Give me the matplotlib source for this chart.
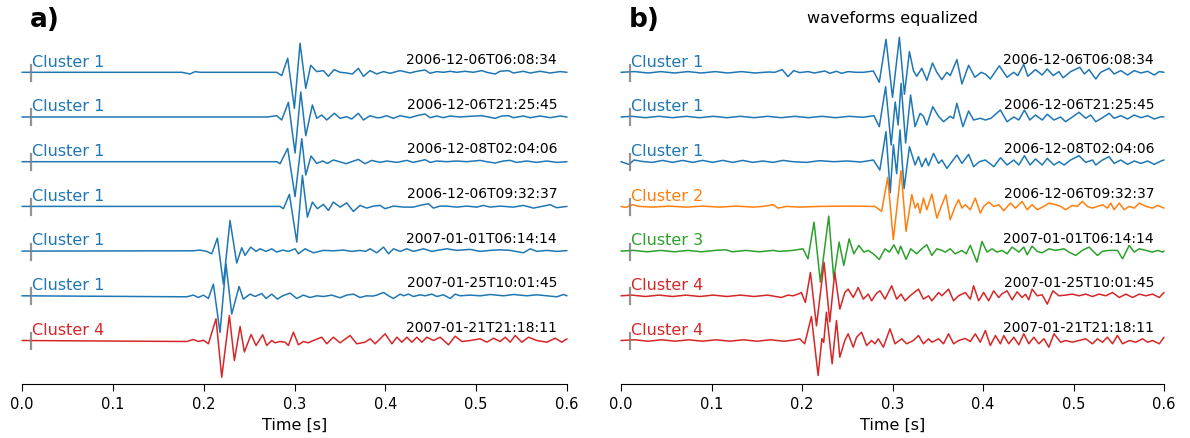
import numpy as np
import matplotlib
matplotlib.use("Agg")
import matplotlib.pyplot as plt

# origin times of the seven events, top to bottom
event_times = ["2006-12-06T06:08:34", "2006-12-06T21:25:45", "2006-12-08T02:04:06",
               "2006-12-06T09:32:37", "2007-01-01T06:14:14", "2007-01-25T10:01:45",
               "2007-01-21T21:18:11"]
clusters_raw = [1, 1, 1, 1, 1, 1, 4]
clusters_eq = [1, 1, 1, 2, 3, 4, 4]

# filtered traces, (time [ms], amplitude) at the turning points
raw_1 = [(0, 0), (176, 0), (185, -1.7), (190.5, 0.7), (196, 0), (280.4, 0), (285.9, -3.3), (292.5, 14),
         (299.9, -36), (306.1, 29), (312.4, -16), (317.9, 7), (324.5, 0.7), (331.8, 1.7), (337.3, -4),
         (343.6, 2.7), (350.2, 0), (357.5, -0.7), (363.7, -1.7), (370.3, 4), (375.9, -4), (383.2, 1.7),
         (390.5, -1.7), (397.9, 0.7), (405.2, -1), (416.2, 1.7), (427.2, -0.7), (434.6, 1), (443.7, 2.3),
         (449.3, -1), (456.6, 0.7), (463.9, 0), (471.3, 1), (478.6, 0), (487.8, 1), (497, 0), (506.1, 1.7),
         (511.6, 0), (520.8, -1.7), (526.3, 1), (535.5, 1.7), (541, -0.7), (552, 1), (559.4, -0.7),
         (570.4, 1), (581.4, -0.7), (592.4, 0.7), (600, 0)]
raw_2 = [(0, 0), (270, 0), (280.4, 1.3), (285.9, -3), (293.3, 14.7), (300.6, -36), (306.9, 25),
         (312.4, -18.7), (319.7, 12), (324.5, -1.3), (330, 2), (335.5, -3), (343.9, 3.7), (350.2, -1.3),
         (357.5, 0.3), (363, -2), (370.3, 3.7), (375.9, -3), (383.2, 1.3), (390.5, -0.7), (394.2, -0.7),
         (401.5, 1.3), (408.9, -1.3), (416.2, 1.3), (427.2, -0.7), (434.6, 1.3), (443.7, 3), (449.3, -0.7),
         (456.6, 1), (463.9, -0.7), (471.3, 1), (482.3, 0), (493.3, 0.7), (506.1, 1.3), (513.5, 0),
         (520.8, -1.3), (528.2, 1), (535.5, 1.3), (541, -0.7), (552, 1), (559.4, -0.7), (570.4, 1),
         (581.4, -0.7), (592.4, 1), (600, 0)]
raw_3 = [(0, 0), (280.4, 0), (284.1, -2), (292.5, 13.3), (300.6, -35), (308, 23), (312.4, -13.3),
         (318.2, 5.7), (324.5, -1.7), (331.1, 0.7), (336.2, -1.7), (342.8, 1.7), (349.4, 0), (356.8, -2),
         (363, 0), (370.3, 2.3), (377.7, -2), (385, 1.3), (394.2, -0.7), (401.5, 0.7), (412.6, -0.7),
         (423.6, 1.3), (430.9, -0.7), (443.7, 2), (449.3, -0.7), (456.6, 0.7), (467.6, 0), (478.6, 0.7),
         (489.6, 0), (504.3, 1.3), (511.6, 0), (520.8, -1.3), (530, 0.7), (537.3, 1.3), (544.7, -0.7),
         (555.7, 0.7), (566.7, -0.7), (577.7, 0.7), (588.7, -0.7), (600, 0)]
raw_4 = [(0, 0), (284.1, 0), (287.8, -2.3), (294.4, 12), (302.5, -35.7), (308.7, 31), (314.2, -10.7),
         (319.7, 4.3), (325.2, -2.3), (331.8, 2), (337.3, -4), (342.8, 4.3), (350.2, -0.7), (357.5, 3.5),
         (364.8, -5), (372.2, 1), (379.5, -1.7), (386.9, 0.3), (394.2, 1), (399.7, -2.3), (408.9, 0.3),
         (419.9, -0.7), (430.9, -0.7), (438.2, 1), (447.4, 2.7), (452.9, -1.7), (460.3, 0.3), (467.6, 0.3),
         (478.6, -0.7), (489.6, 0.3), (500.6, -0.7), (508, 1), (515.3, -0.7), (526.3, 0.3), (541, -0.7),
         (552, 1), (563, -1.7), (574, 0.3), (581.4, 1.7), (588.7, -1.3), (600, 0)]
raw_5 = [(0, 0), (188.7, 0.3), (196, 1), (203.4, -0.3), (208.9, -2.7), (215.1, 13), (221.7, -33),
         (229, 30.7), (236.4, -12), (241.9, 3.3), (245.6, -4.3), (251.8, 4), (257.7, -0.3), (262.1, 2.3),
         (268.7, -0.3), (274.9, 2.3), (280.4, -1), (287, 1), (293.3, -0.3), (300.6, 2.3), (304.3, -2.7),
         (311.6, 2.3), (320.8, -1.7), (331.8, 0.7), (342.8, 0.3), (353.8, 1), (363, -0.3), (372.2, 0.7),
         (378, -0.3), (383.3, 2.3), (390.6, -1.7), (398, 4), (403.5, -2.7), (409, 2.3), (416.3, -0.3),
         (423.7, 2.3), (431, -0.3), (442, 2.3), (451.2, -0.3), (456.7, 0.7), (467.7, 2.3), (478.7, 0.7),
         (493.4, 1.7), (504.4, -0.3), (515.4, 0.7), (526.4, 1.3), (537.4, 0.7), (552.1, -1.7),
         (559.5, 2.3), (566.8, -0.3), (577.8, 0.7), (588.8, -0.3), (600, 0.5)]
raw_6 = [(0, 0), (181.3, -1), (188.7, 0.7), (194.2, -1.7), (199.7, 0.7), (205.2, -2.7), (210.7, 11.7),
         (218, -36.7), (224.6, 31.7), (230.9, -18.3), (239, 9.3), (243.7, -3.3), (251.1, 1.7), (256.6, -0.7),
         (263.9, 2.3), (268.7, -2.7), (274.9, 1.7), (281.2, -3.3), (287, 0), (295.1, 2.7), (302.5, -2.7),
         (309.8, 0.7), (317.1, -1.7), (324.5, 0), (331.8, -0.7), (341, 0.7), (350.2, -2), (357.5, 0.7),
         (364.8, 1.7), (372.2, -1.7), (379.5, 0), (386, -0.3), (390.6, 0.7), (398, 3.3), (403.5, 0),
         (409, -2.7), (416.3, 1.7), (420, 0), (425.5, 1.7), (431, -0.7), (438.4, 1), (443.9, 0),
         (451.2, 1.7), (456.7, -0.7), (464, 1), (471.4, -2.7), (476.9, 1.7), (482.4, 0), (493.4, 0.7),
         (504.4, 0), (515.4, 1.3), (530.1, 0), (541.1, 1.3), (555.8, 0), (566.8, 1), (577.8, 0),
         (588.8, -1), (596.2, 1.3), (600, 0)]
raw_7 = [(0, 0), (181.3, -1), (188.7, 1), (194.2, -1), (199.7, 0.3), (205.2, -3.3), (213.6, 21.7),
         (219.9, -36.7), (228.3, 25), (233.8, -20), (240.1, 14), (244.8, -11.5), (252.2, 6), (257.7, -5),
         (265, 5.7), (269.4, -5), (274.9, 0), (278.6, -2.3), (284.1, -1), (289.6, -1.7), (293.3, -5),
         (298.8, 8.3), (304.3, -4.3), (309.8, -1), (315.3, -2.3), (320.8, 0), (330, 3.3), (335.5, -3.3),
         (342.8, 3.3), (350.2, -2.3), (361.2, 5), (368.5, -3.3), (377.7, -1.7), (383.3, 1.7),
         (388.8, -3.3), (399.8, 6.7), (407.2, -3.3), (412.7, 3.3), (418.2, -1.7), (423.7, 3.3),
         (429.2, -1.7), (434.7, 3.3), (440.2, -1.7), (445.7, 3.3), (453, 0), (460.4, 3.3), (469.5, -4.3),
         (476.9, 4.3), (484.2, -1), (493.4, 0), (504.4, 1.7), (511.8, -1.7), (519.1, 2.3), (526.4, -1),
         (532, 3.3), (537.4, -1.7), (543, 5), (550.3, -1.7), (557.6, 3.3), (566.8, 0), (577.8, -1.7),
         (587, 2.3), (594.3, -1.7), (600, 1.7)]

# the same events after spectral equalization
eq_1 = [(0, 0), (15, 0.7), (30, -0.7), (44, 0.7), (59, -0.7), (74, 0.7), (89, -0.7), (104, 0.7),
        (118, -0.7), (133, 0.7), (148, -0.7), (163, 0.3), (170, 0), (178.2, 2.7), (184.5, -4.3),
        (190.8, 1.7), (197.4, -0.3), (206.7, 0.7), (213.6, -0.7), (225.2, 1.3), (230.7, -1), (238.1, 1),
        (243.6, -1), (251, 0.7), (260, 0), (268, 0), (278.8, 1.3), (285.4, -10), (292.8, 33), (300, -25),
        (307.6, 35), (313.2, -22), (318.7, 20.7), (323.1, 1.7), (326.8, -4), (332.4, 4), (338, -8),
        (344.2, 9.3), (349, 0), (354.5, -7.3), (360.1, 0), (363.8, -3.3), (371.2, 12.7), (376.7, -11.7),
        (384.1, 7), (391, -5), (398, 0), (403, -2), (408, -6.7), (418, 6.5), (426.6, -5), (434, 0),
        (438.4, -3.3), (445.1, 8), (449.5, -4), (458, 2.7), (465.4, -2.7), (471, 3.3), (477.6, -3.3),
        (483.9, 0.7), (488.5, -5.5), (496.8, 0.7), (507, 5), (512, -1.7), (517.2, 2.7), (524.6, -6.7),
        (530.1, 0), (539.4, 4), (544.9, -1.7), (552.3, 1.7), (559.7, -2.7), (567.1, 1.7), (574.5, -0.7),
        (581.9, 1), (589.3, -2.7), (594.8, 0.7), (600, 0)]
eq_2 = [(0, 0), (12, 0.7), (27, -0.7), (42, 0.7), (57, -0.7), (72, 0.7), (87, -0.7), (102, 0.7),
        (117, -0.7), (132, 0.7), (147, -0.7), (162, 0.7), (177, -0.7), (192, 0.7), (207, -0.7), (222, 0.7),
        (237, -0.7), (252, 0.7), (267, -0.3), (279.5, 1.3), (285.4, -9.7), (292.4, 30.3), (298.5, -28),
        (303, 15), (306.2, -8), (309.5, 33.7), (314.5, -26), (320, 22), (324.9, -9.7), (330.5, 3.7),
        (334.2, 0.7), (337.9, -8), (344.5, 10.3), (350.8, 0.7), (356.4, -4.7), (363.7, 0.7), (367.4, -1.3),
        (371.1, 13.7), (377.8, -9.7), (384.1, 6), (389.6, -3), (397, -1.3), (402.6, -3), (408.8, -1.3),
        (419.2, 7), (426.6, -4.7), (434, 0), (439.5, -3), (445.8, 7), (451.7, -3), (458, 2),
        (465.4, -3), (471, 2.7), (478.4, -3), (485.7, 0), (491.3, -4.7), (498.7, 0), (506.1, 4.7),
        (513.5, -1.3), (519, 2), (524.6, -4.7), (532, -0.7), (539.4, 3.7), (544.9, -1.3), (552.3, 1.3),
        (559.7, -2), (567.1, 2), (574.5, -0.7), (581.9, 1.3), (589.3, -2), (596.7, 0.3), (600, 0)]
eq_3 = [(0, 0), (8.9, -2.7), (14.4, 1.7), (23, 0.3), (34.8, -0.7), (45.9, 1.3), (57, -0.7), (68, 1.3),
        (79.1, -0.7), (90.2, 1.3), (101.3, -0.7), (112.4, 1.3), (123.5, -0.7), (134.6, 1.3), (145.7, -0.7),
        (156.8, 0.7), (167.9, -0.7), (179, 1.3), (190.1, 0), (204.8, -0.7), (219.6, 1), (235, 0),
        (250, 0.7), (265, -0.3), (278.8, 1.7), (286, -8.3), (292.8, 30), (297.5, -31), (301, 17),
        (304.6, -12), (308.3, 31.7), (312.8, -27), (318.7, 15), (325, -3.3), (328.7, 5), (332.4, -5),
        (336.8, 3.3), (339.8, -4), (345.3, 8.3), (350.9, -1.7), (354.6, 1.7), (360.1, -6.7), (365.6, 0),
        (371.2, 6.7), (376.7, -1.7), (384.1, 7.3), (389.7, -5), (396, 0), (402.6, 1.7), (412, -5),
        (419.4, 4), (426.6, -3.3), (434, 1.7), (439.5, -3.3), (445.8, 6), (452, -3.3), (458, 2.7),
        (465.4, -3.3), (471, 3.3), (478.4, -3.3), (484, 0), (489.6, -3.3), (496.8, 1.7), (506.1, 6),
        (513.5, -0.7), (521, 1.7), (524.6, -3.3), (532, 1.7), (539.4, 5), (544.9, -1.7), (552.3, 1.7),
        (559.7, -2.7), (567.1, 0.7), (574.5, -1.7), (581.9, 0.7), (589.3, -2.7), (596.7, 0.7), (600, 1.7)]
eq_4 = [(0, 0), (5.2, -1), (12.6, 1.7), (20, 0), (35, -0.7), (53, 0.3), (72, -0.7), (90, 0.3),
        (109, -0.7), (127, 0.3), (146, -0.7), (157, 0), (168, 1.7), (173.4, -1.7), (183, 0),
        (197.4, -0.7), (220, 0), (250, 0.3), (280.6, 0), (288, -5), (294.7, 29), (300.9, -33.3),
        (309.4, 35.7), (315, -25), (321.3, 11.7), (325, -1.7), (327.9, 3.3), (330.5, -6.7), (334.2, 8.3),
        (337.9, -3.3), (343.5, 12.3), (349, -11.7), (354.6, 1.7), (359, 11.7), (363.8, -13.3), (369.3, 0),
        (373, 6.7), (376.7, -1.7), (380.4, 1.7), (386, -3.3), (391.5, 8.3), (397, -6.7), (400.7, 0),
        (406.3, 4.3), (411.8, 0), (417.4, 1.7), (422.9, -4.3), (430.3, 3.3), (435.9, -1.7), (443.2, 5),
        (448.8, -3.3), (454.3, 1.7), (459.9, -3.3), (467.3, 0), (472.8, 3.3), (480.2, 1.7), (485.8, 0),
        (491.3, -3.3), (498.7, 1), (504.2, 0), (509.8, 5), (515.3, 0), (520.9, -1.7), (526.4, 0),
        (532, 1.7), (537.5, -1.7), (541.2, 3.3), (544.9, -3.3), (550.5, 3.3), (556, -3.3), (561.6, 0),
        (567.1, -1.7), (572.6, 3.3), (580, 0), (587.4, -1.7), (593, 1), (600, -1.7)]
eq_5 = [(0, 0), (14, 0.7), (29, -0.7), (44, 0.7), (59, -0.7), (74, 0.7), (89, -0.7), (104, 0.7),
        (116, 1.3), (123, -0.7), (138, 0.7), (153, -0.7), (168, 0.7), (175.2, -0.3), (190, 0.7),
        (201.1, 2.3), (206.6, -7.7), (213.3, 29), (220.3, -31), (229.5, 35), (235.1, -27.7), (241, 9),
        (246.2, -14.3), (252.1, 12.3), (257.3, -2.7), (262.8, 5.7), (268.4, -1), (273.2, 0.7),
        (278.7, -2.7), (285.4, -8.3), (291.7, 2.3), (296.5, -1), (301.6, 6.3), (306.4, -2.7), (309, 5),
        (315, -8.3), (320.1, 2.3), (326.8, -2.7), (332.3, 2.3), (337.9, 6.3), (343.4, -4.3), (349, 2.3),
        (354.5, 0.7), (358.2, -1), (363.7, 2.3), (369.3, -2.7), (376.7, 0.7), (381.5, -2.7),
        (385.9, 5.7), (393.3, -11), (398.9, 9.7), (404.4, -1), (410, 2.3), (415.5, -1), (421.1, 0.7),
        (426.6, -2.7), (432.2, 4), (439.6, -1), (445.1, 4), (448.8, -3.7), (454.3, 5), (459.9, -0.3),
        (465.4, -1.7), (472.8, 2.3), (480.2, 0.7), (489.5, 2.3), (495, -1), (502.4, -4.3), (509.8, 0.7),
        (517.2, 4), (522.7, -1), (526.4, -4.3), (532, -0.3), (539.4, 0.7), (548.6, 0.7), (554.2, -7.7),
        (561.6, 5.7), (567.1, -1), (572.6, 2.3), (580, 0.7), (587.4, -1), (593, 0.7), (598.5, -1),
        (600, 0)]
eq_6 = [(0, 0), (12, 0.7), (27, -0.7), (42, 0.7), (57, -0.7), (72, 0.7), (87, -0.7), (102, 0.7),
        (117, -0.7), (132, 0.7), (147, -0.7), (162, 0.7), (177.1, -1.7), (184.5, 0.7), (190, 0),
        (195.6, 1.7), (199.3, 3.3), (203.7, -6.7), (209.3, 23.3), (216, -30), (224.4, 33.3),
        (230.7, -26), (236.2, 23.3), (241.8, -13.3), (247.3, 3.3), (251, 6.7), (256.6, -1.7),
        (262.1, 8.3), (267.7, -3.3), (273.2, 1.7), (276.9, -5), (282.5, 2.7), (286.2, 5), (291.7, -3.3),
        (299.1, 10), (304.6, -3.3), (309.4, 1.7), (313.9, -5), (319.4, 0), (328.7, 6.7), (334.2, -3.3),
        (339.8, 0), (343.5, -5), (350.9, 3.3), (354.6, 0), (361.9, 6.7), (367.5, -5), (373, 0),
        (380.4, 3.3), (386, -3.3), (389.6, 10), (395.2, -5), (400.7, 3.3), (406.3, -5), (411.8, 5),
        (417.4, -1.7), (421, 2), (426.6, 5), (432.2, -4), (437.7, 4), (443.2, -1.7), (447, 1.5),
        (450.6, -4), (454.3, 6.7), (459.9, 0), (465.4, 1), (471, -8.3), (477.3, 5), (483.9, 0),
        (491.3, 0.7), (498.7, 1.7), (506.1, 0), (513.5, 1.7), (520.9, -0.7), (528.3, 1.7), (535.7, 0),
        (543.1, 3.3), (550.5, -1.7), (557.9, 1.7), (565.3, -1.7), (572.6, 1.7), (580, 0), (587.4, 1.7),
        (594.8, -1.7), (600, 3.3)]
eq_7 = [(0, 0), (15, 0.7), (30, -0.7), (45, 0.7), (60, -0.7), (75, 0.7), (90, -0.7), (105, 0.7),
        (120, -0.7), (135, 0.7), (150, -0.7), (165, 0.7), (180, -0.7), (190, 0.3), (197.4, 1.7),
        (203, -3.3), (210.4, 24), (217.8, -35), (222, 2), (224, -2), (227, 28.3), (233.3, -23.3),
        (238.1, 20), (241.8, -16.7), (247.3, 0), (251, 6.7), (256.6, -6.7), (260.3, 3.3), (265.8, 8.3),
        (271.4, -5), (276.9, 0), (280.6, -3.3), (284.3, 1.7), (289.9, -6.7), (297.2, 11.7),
        (302.8, -3.3), (310.2, 1.7), (315.7, -3.3), (323.1, 0), (328.7, 5), (334.2, -3.3), (339.8, 1.7),
        (343.5, -1.7), (350.9, 1.7), (356.4, -3.3), (361.9, 6.7), (367.5, -3.3), (373, 0), (380.4, 2),
        (385.9, -1), (391.5, 6.7), (397, -1.7), (402.6, 10), (408.1, -5), (413.7, 5), (419.2, -3.3),
        (422.9, 5), (428.5, -3.3), (434, 3.3), (439.6, -4.3), (445.1, 6.7), (450.6, -3.3), (456.2, 3.3),
        (461.7, -3.3), (467.3, 1.7), (472.8, -6.7), (478.4, 6.7), (485.8, -1.7), (491.3, 0),
        (498.7, -1.7), (506.1, 0), (513.5, 1.7), (520.9, -3.3), (526.4, 1.7), (532, -1.7), (537.5, 3.3),
        (543.1, -3.3), (548.6, 5), (554.2, -3.3), (561.6, 0), (568.9, -1.7), (576.3, 1.7), (581.9, -1.7),
        (587.4, 0), (594.8, -3.3), (600, 3.3)]

raw_traces = [raw_1, raw_2, raw_3, raw_4, raw_5, raw_6, raw_7]
eq_traces = [eq_1, eq_2, eq_3, eq_4, eq_5, eq_6, eq_7]

cluster_colors = {1: "tab:blue", 2: "tab:orange", 3: "tab:green", 4: "tab:red"}
spacing = 44.7
pick_time = 0.01


def draw_panel(ax, traces, clusters):
    for k, (trace, cl) in enumerate(zip(traces, clusters)):
        t, amp = np.array(trace).T
        base = -k * spacing
        color = cluster_colors[cl]
        ax.plot(t / 1000.0, base + amp, color=color, lw=1.1, clip_on=False,
                solid_joinstyle="round", solid_capstyle="round")
        # pick marker
        ax.plot([pick_time, pick_time], [base - 8.4, base + 7.6], color="0.5", lw=1.6, alpha=0.85)
        ax.text(pick_time + 0.0015, base + 6.6, f"Cluster {cl}", color=color, fontsize=11.5,
                ha="left", va="baseline")
        ax.text(0.589, base + 9.3, event_times[k], color="black", fontsize=10,
                ha="right", va="baseline")

    ax.set_xlim(0, 0.6)
    ax.set_ylim(-6 * spacing - 43.5, 43.3)
    ax.set_xticks(np.arange(0, 0.61, 0.1))
    ax.set_yticks([])
    for side in ("left", "top", "right"):
        ax.spines[side].set_visible(False)
    ax.tick_params(axis="x", labelsize=10.5, length=5)
    ax.set_xlabel("Time [s]", fontsize=11.5)


fig = plt.figure(figsize=(11.9, 4.39), dpi=100)
ax_a = fig.add_axes([22 / 1190, 54 / 439, 545 / 1190, 355 / 439])
ax_b = fig.add_axes([621 / 1190, 54 / 439, 543 / 1190, 355 / 439])

draw_panel(ax_a, raw_traces, clusters_raw)
draw_panel(ax_b, eq_traces, clusters_eq)

fig.text(30 / 1190, 1 - 27 / 439, "a)", fontsize=19, fontweight="bold", va="baseline")
fig.text(629 / 1190, 1 - 27 / 439, "b)", fontsize=19, fontweight="bold", va="baseline")
fig.text((621 + 1164) / 2 / 1190, 1 - 22.7 / 439, "waveforms equalized", fontsize=11.5,
         ha="center", va="baseline")

fig.savefig("out.png", dpi=100)
